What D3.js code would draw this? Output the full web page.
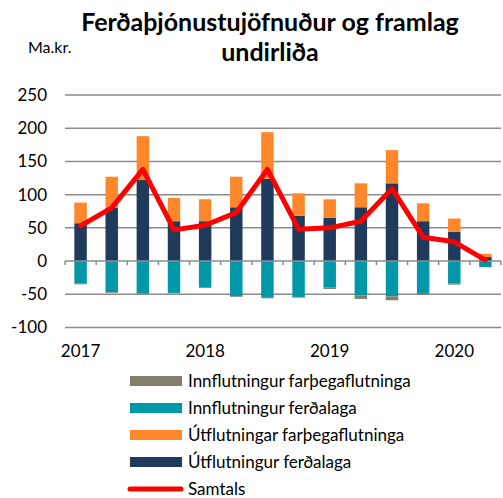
<!DOCTYPE html>
<html lang="en">
<head>
    <meta charset="utf-8">
    <title>index.html</title>
    <script type="text/javascript" src="https://cdnjs.cloudflare.com/ajax/libs/d3/7.8.5/d3.min.js"></script>
    <style>
      body { margin: 0; background: #fff; }
      text { font-family: Lato, "Noto Sans", sans-serif; fill: #000; }
    </style>
</head>
<body>
    <script type="text/javascript">
    //quarters 2017Q1 - 2020Q2
    var quarters = ["2017Q1","2017Q2","2017Q3","2017Q4","2018Q1","2018Q2","2018Q3","2018Q4",
                    "2019Q1","2019Q2","2019Q3","2019Q4","2020Q1","2020Q2"];
    var yearLabels = {"2017Q1": "2017", "2018Q1": "2018", "2019Q1": "2019", "2020Q1": "2020"};

    //series values, ma.kr.
    var utflFerdalaga  = [57, 80, 122, 60, 60, 81, 124, 68, 65, 81, 117, 60, 44, 6];
    var utflFarthega   = [31, 47, 66, 35, 33, 46, 70, 34, 28, 36, 50, 27, 20, 5];
    var innflFerdalaga = [-34, -47, -49, -48, -40, -53, -54, -54, -40, -52, -53, -48, -34, -9];
    var innflFarthega  = [-1, -1, -0.5, -0.5, -0.5, -1, -2, -1, -2, -5, -6, -3, -1.5, 0];
    var samtals        = [53, 80, 138, 47, 54, 73, 138, 48, 50, 60, 109, 36, 29, 1.5];

    var yTicks = [250, 200, 150, 100, 50, 0, -50, -100];

    var seriesNames = {
      innFarth: "Innflutningur farþegaflutninga",
      innFerd: "Innflutningur ferðalaga",
      utfFarth: "Útflutningar farþegaflutninga",
      utfFerd: "Útflutningur ferðalaga"
    };
    var colors = {
      innFarth: "#837f6d",
      innFerd: "#0097a9",
      utfFarth: "#fe872b",
      utfFerd: "#1f3a5b"
    };

    //initialize the dimensions
    var width = 503,
        height = 498,
        plotLeft = 65,
        plotRight = 501,
        plotTop = 95,
        plotBottom = 327.5;

    var table = quarters.map(function(q, i) {
      return {
        q: q,
        utfFerd: utflFerdalaga[i],
        utfFarth: utflFarthega[i],
        innFerd: innflFerdalaga[i],
        innFarth: innflFarthega[i],
        total: samtals[i]
      };
    });

    var xScale = d3.scaleBand()
                   .domain(quarters)
                   .range([plotLeft, plotRight])
                   .paddingInner(0.6)
                   .paddingOuter(0.3);

    var yScale = d3.scaleLinear()
                   .domain([-100, 250])
                   .range([plotBottom, plotTop]);

    var svg = d3.select("body")
                .append("svg")
                .attr("width", width)
                .attr("height", height);

    //title
    svg.append("text")
       .attr("x", 270)
       .attr("y", 31)
       .attr("text-anchor", "middle")
       .style("font-size", "25px")
       .style("font-weight", "bold")
       .text("Ferðaþjónustujöfnuður og framlag");
    svg.append("text")
       .attr("x", 270)
       .attr("y", 61)
       .attr("text-anchor", "middle")
       .style("font-size", "25px")
       .style("font-weight", "bold")
       .text("undirliða");

    //unit label
    svg.append("text")
       .attr("x", 28)
       .attr("y", 53)
       .style("font-size", "16px")
       .text("Ma.kr.");

    //gridlines
    svg.selectAll(".grid")
       .data(yTicks.filter(function(d) { return d != 0; }))
       .enter()
       .append("line")
       .attr("class", "grid")
       .attr("x1", plotLeft)
       .attr("x2", plotRight)
       .attr("y1", function(d) { return yScale(d); })
       .attr("y2", function(d) { return yScale(d); })
       .attr("stroke", "#8c8c8c")
       .attr("stroke-width", 1.5);

    //y labels
    svg.selectAll(".ylab")
       .data(yTicks)
       .enter()
       .append("text")
       .attr("class", "ylab")
       .attr("x", 47)
       .attr("y", function(d) { return yScale(d); })
       .attr("dy", "0.35em")
       .attr("text-anchor", "end")
       .style("font-size", "17px")
       .text(function(d) { return d; });

    //stack the bars
    var stack = d3.stack()
                  .keys(["utfFerd", "utfFarth", "innFerd", "innFarth"])
                  .offset(d3.stackOffsetDiverging);

    var layers = svg.selectAll(".layer")
                    .data(stack(table))
                    .enter()
                    .append("g")
                    .attr("class", "layer")
                    .attr("fill", function(d) { return colors[d.key]; });

    layers.selectAll("rect")
          .data(function(d) { return d; })
          .enter()
          .append("rect")
          .attr("x", function(d) { return xScale(d.data.q); })
          .attr("width", xScale.bandwidth())
          .attr("y", function(d) { return yScale(Math.max(d[0], d[1])); })
          .attr("height", function(d) { return Math.abs(yScale(d[0]) - yScale(d[1])); });

    //zero axis with tick marks between quarters
    var step = xScale.step();
    svg.append("line")
       .attr("x1", plotLeft)
       .attr("x2", plotRight)
       .attr("y1", yScale(0))
       .attr("y2", yScale(0))
       .attr("stroke", "#8c8c8c")
       .attr("stroke-width", 1.5);

    svg.selectAll(".tick")
       .data(d3.range(quarters.length + 1))
       .enter()
       .append("line")
       .attr("class", "tick")
       .attr("x1", function(i) { return plotLeft + i * step; })
       .attr("x2", function(i) { return plotLeft + i * step; })
       .attr("y1", yScale(0))
       .attr("y2", yScale(0) + 4)
       .attr("stroke", "#8c8c8c")
       .attr("stroke-width", 1.5);

    //year labels
    svg.selectAll(".xlab")
       .data(quarters.filter(function(q) { return yearLabels[q]; }))
       .enter()
       .append("text")
       .attr("class", "xlab")
       .attr("x", function(q) { return xScale(q) + xScale.bandwidth() / 2; })
       .attr("y", 357)
       .attr("text-anchor", "middle")
       .style("font-size", "17px")
       .text(function(q) { return yearLabels[q]; });

    //total line
    var line = d3.line()
                 .x(function(d) { return xScale(d.q) + xScale.bandwidth() / 2; })
                 .y(function(d) { return yScale(d.total); });

    svg.append("path")
       .datum(table)
       .attr("d", line)
       .attr("fill", "none")
       .attr("stroke", "#ff0000")
       .attr("stroke-width", 5)
       .attr("stroke-linejoin", "round")
       .attr("stroke-linecap", "round");

    //legend
    var legendItems = ["innFarth", "innFerd", "utfFarth", "utfFerd", "total"];
    var legend = svg.selectAll(".legend")
                    .data(legendItems)
                    .enter()
                    .append("g")
                    .attr("class", "legend")
                    .attr("transform", function(d, i) { return "translate(0," + (381 + i * 27) + ")"; });

    legend.each(function(d) {
      var g = d3.select(this);
      if (d == "total") {
        g.append("line")
         .attr("x1", 130)
         .attr("x2", 181)
         .attr("stroke", "#ff0000")
         .attr("stroke-width", 5)
         .attr("stroke-linecap", "round");
      } else {
        g.append("rect")
         .attr("x", 130)
         .attr("y", -5)
         .attr("width", 52)
         .attr("height", 10)
         .attr("fill", colors[d]);
      }
      g.append("text")
       .attr("x", 188)
       .attr("dy", "0.35em")
       .style("font-size", "17px")
       .text(d == "total" ? "Samtals" : seriesNames[d]);
    });

    </script>
</body>
</html>
